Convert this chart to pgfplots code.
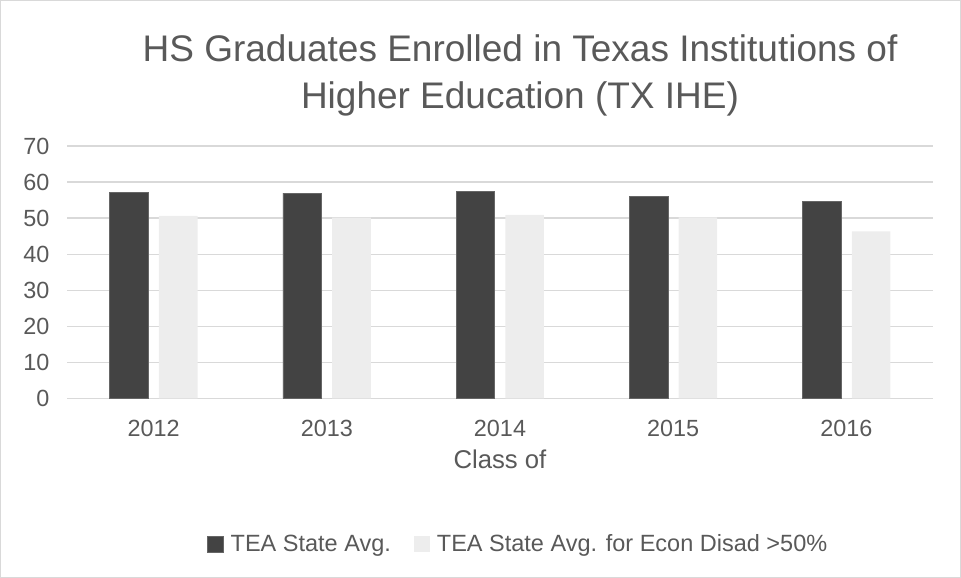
\documentclass[border=0pt]{standalone}
\usepackage{pgfplots}
\pgfplotsset{compat=1.18}
\usepackage{fontspec}
\setmainfont{Liberation Sans}
\definecolor{txt}{HTML}{595959}
\definecolor{gridc}{HTML}{D9D9D9}
\definecolor{darkbar}{HTML}{434343}
\definecolor{lightbar}{HTML}{EDEDED}
\begin{document}
\begin{tikzpicture}
\draw[gridc, line width=1pt] (0.5pt,0.5pt) rectangle (960.5pt,577.5pt);
\node[text=txt, align=center, font=\fontsize{37}{47}\selectfont] at (520pt,503pt) {HS Graduates Enrolled in Texas Institutions of\\Higher Education (TX IHE)};
\begin{axis}[
  at={(67pt,179.7pt)}, anchor=south west,
  scale only axis, width=866pt, height=252.3pt,
  ybar=10.7pt, bar width=38.6pt,
  xmin=-0.5, xmax=4.5, ymin=0, ymax=70,
  xtick=data, xticklabels={2012,2013,2014,2015,2016},
  ytick={0,10,...,70},
  xmajorgrids=false, ymajorgrids=true,
  y grid style={gridc, line width=1.2pt},
  axis line style={draw=none},
  axis x line*=bottom,
  x axis line style={draw=gridc, line width=1.2pt},
  major tick length=0pt, tick style={draw=none},
  ticklabel style={text=txt, font=\fontsize{23.4}{28}\selectfont},
  /pgf/number format/assume math mode=true,
  yticklabel style={xshift=-14pt},
  xticklabel style={yshift=-18pt},
  xlabel={Class of}, xlabel style={text=txt, font=\fontsize{25.7}{30}\selectfont, yshift=-7pt},
  legend columns=2,
  legend style={at={(0.521,-0.577)}, anchor=center, draw=none, fill=none,
    font=\fontsize{23.5}{28}\selectfont, text=txt,
    /tikz/every odd column/.append style={column sep=5pt},
    /tikz/every even column/.append style={column sep=21pt}},
  legend image code/.code={\fill[#1] (2pt,-8pt) rectangle (18pt,8pt);},
]
\addplot[fill=darkbar, draw=gray!80!black, line width=0.6pt] coordinates {(0,57.2) (1,56.9) (2,57.4) (3,56.1) (4,54.7)};
\addplot[fill=lightbar, draw=none] coordinates {(0,50.6) (1,50.1) (2,50.9) (3,50.2) (4,46.3)};
\legend{TEA State Avg.,TEA State Avg. for Econ Disad >50\%}
\end{axis}
\end{tikzpicture}
\end{document}
